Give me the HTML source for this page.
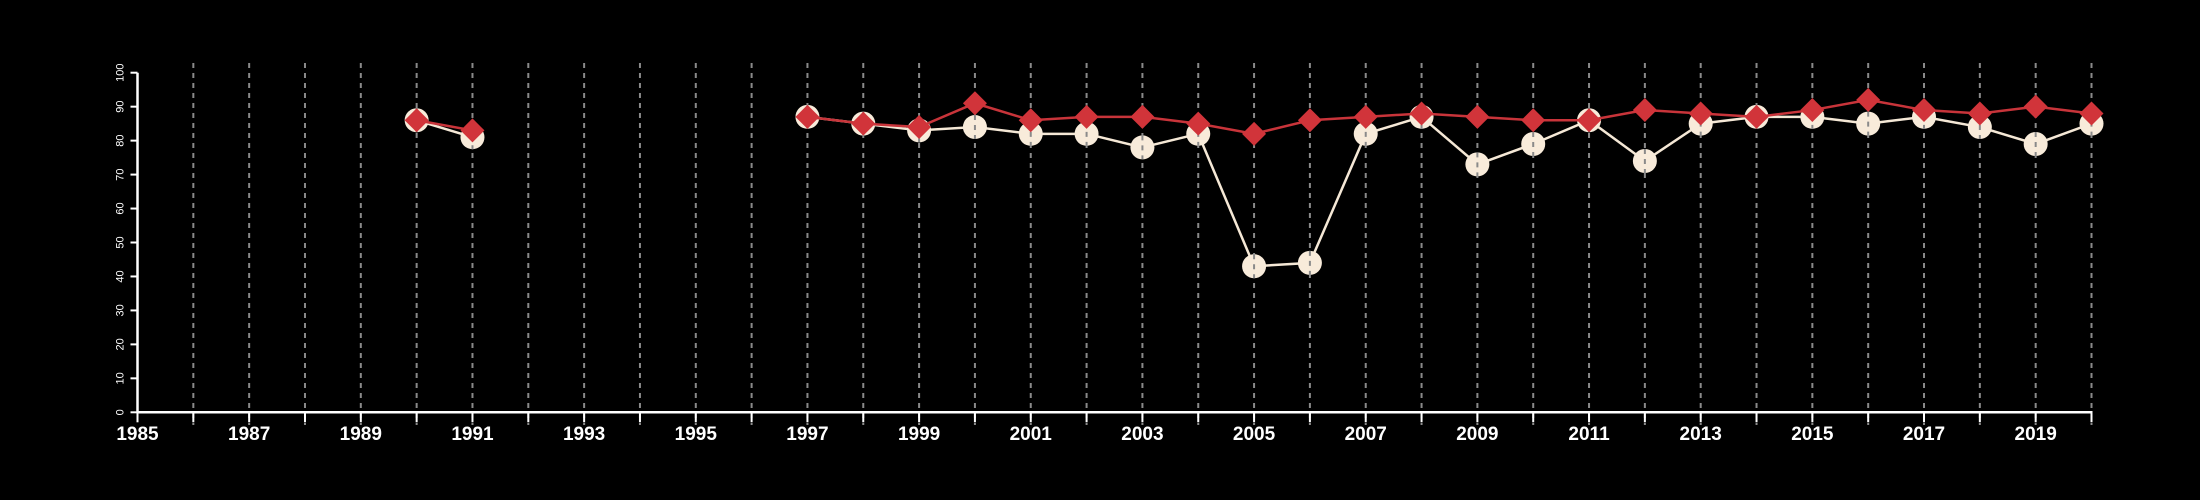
<!DOCTYPE html>
<html><head><meta charset="utf-8"><style>html,body{margin:0;padding:0;background:#000;}svg{display:block}</style></head>
<body>
<svg id="chart" width="2200" height="500" xmlns="http://www.w3.org/2000/svg" style="font-family:'Liberation Sans',sans-serif">
<rect width="2200" height="500" fill="#000"/>
<g id="grid"></g>
<g id="axes"></g>
<g id="marks"></g>
</svg>
<script>
const years = [1990,1991,null,1997,1998,1999,2000,2001,2002,2003,2004,2005,2006,2007,2008,2009,2010,2011,2012,2013,2014,2015,2016,2017,2018,2019,2020];
const seriesA = [86,81,null,87,85,83,84,82,82,78,82,43,44,82,87,73,79,86,74,85,87,87,85,87,84,79,85];
const seriesB = [86,83,null,87,85,84,91,86,87,87,85,82,86,87,88,87,86,86,89,88,87,89,92,89,88,90,88];
const yTicks = [0,10,20,30,40,50,60,70,80,90,100];
const xLabels = [1985,1987,1989,1991,1993,1995,1997,1999,2001,2003,2005,2007,2009,2011,2013,2015,2017,2019];

const NS='http://www.w3.org/2000/svg';
const x0=137.5,x1=2091.5,y0=412.3,y1=72.7;
function xs(v){return x0+(v-1985)/(2020-1985)*(x1-x0);}
function ys(v){return y0-(v-0)/100*(y0-y1);}
function mk(tag,attrs,parent){const e=document.createElementNS(NS,tag);for(const k in attrs)e.setAttribute(k,attrs[k]);parent.appendChild(e);return e;}
const grid=document.getElementById('grid'),axes=document.getElementById('axes'),marks=document.getElementById('marks');

// axes
let e=mk('line',{x1:x0,y1:y1,x2:x0,y2:y0+1,stroke:'#fff','stroke-width':2.5},axes);


e=mk('line',{x1:x0-1,y1:y0,x2:x1+1,y2:y0,stroke:'#fff','stroke-width':2.5},axes);


yTicks.forEach(t=>{
  const y=ys(t);
  let l=mk('line',{x1:x0-7,y1:y,x2:x0,y2:y,stroke:'#fff','stroke-width':2},axes);
  
  
  let tx=mk('text',{x:0,y:0,transform:`translate(${x0-14},${y}) rotate(-90)`,'text-anchor':'middle',fill:'#fff','font-size':11},axes);
  tx.textContent=t;
  
  
});
for(let yr=1985;yr<=2020;yr++){
  const x=xs(yr);
  let l=mk('line',{x1:x,y1:y0,x2:x,y2:y0+10,stroke:'#fff','stroke-width':2},axes);
  
  
  if(yr>1985){
    let g=mk('line',{x1:x,y1:63,x2:x,y2:425,stroke:'#8a8a8a','stroke-width':2,'stroke-dasharray':'5 5'},grid);
    
    
  }
}
xLabels.forEach(yr=>{
  let tx=mk('text',{x:xs(yr),y:440,'text-anchor':'middle',fill:'#fff','font-size':19,'font-weight':'bold'},axes);
  tx.textContent=yr;
  
  
});

function segs(vals){const out=[];let cur=[];years.forEach((yr,i)=>{if(yr==null||vals[i]==null){if(cur.length)out.push(cur);cur=[];}else cur.push([xs(yr),ys(vals[i])]);});if(cur.length)out.push(cur);return out;}
// series A line + circles
segs(seriesA).forEach(s=>{
  let p=mk('polyline',{points:s.map(q=>q.join(',')).join(' '),fill:'none',stroke:'#f5e8d6','stroke-width':2.5},marks);
  
  
});
years.forEach((yr,i)=>{if(yr==null)return;
  let c=mk('circle',{cx:xs(yr),cy:ys(seriesA[i]),r:12,fill:'#f8ebda'},marks);
  
  
});
// gridlines over circles
years.forEach((yr,i)=>{if(yr==null)return;
  let g=mk('line',{x1:xs(yr),y1:ys(seriesA[i])-12,x2:xs(yr),y2:ys(seriesA[i])+12,stroke:'#8a8a8a','stroke-width':2,'stroke-dasharray':'5 5'},marks);
  
  
});
segs(seriesB).forEach(s=>{
  let p=mk('polyline',{points:s.map(q=>q.join(',')).join(' '),fill:'none',stroke:'#c8343a','stroke-width':2.5},marks);
  
  
});
years.forEach((yr,i)=>{if(yr==null)return;
  const x=xs(yr),y=ys(seriesB[i]),d=12;
  let p=mk('polygon',{points:`${x},${y-d} ${x+d},${y} ${x},${y+d} ${x-d},${y}`,fill:'#d1343a'},marks);
  
  
});
</script>
</body></html>
